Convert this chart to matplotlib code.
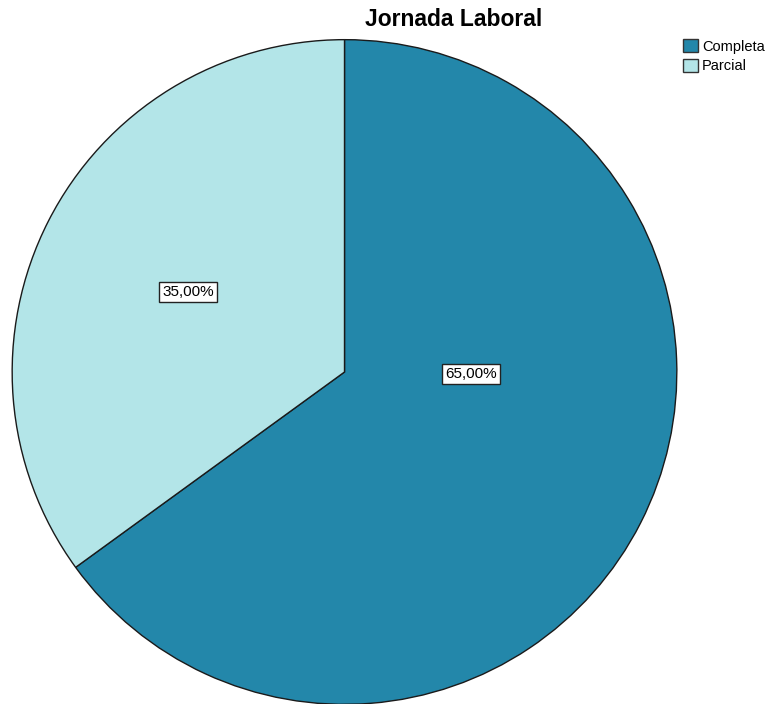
import matplotlib
matplotlib.use('Agg')
import matplotlib.pyplot as plt
from matplotlib.patches import Patch

plt.rcParams['font.family'] = ['Liberation Sans', 'DejaVu Sans']

categorias = ['Completa', 'Parcial']
valores = [65.0, 35.0]
colores = ['#2387AA', '#B3E5E8']

fig = plt.figure(figsize=(7.68, 7.04), dpi=100)
ax = fig.add_axes([10 / 768, -2 / 704, 669 / 768, 668 / 704])

wedges, _ = ax.pie(valores, colors=colores, startangle=90, counterclock=False,
                   wedgeprops=dict(edgecolor='#1a1a1a', linewidth=1.0))
ax.set_aspect('equal')
ax.set_xlim(-1.005, 1.005)
ax.set_ylim(-1.005, 1.005)

# etiquetas de porcentaje
pos_etiquetas = [(0.38, -0.005), (-0.47, 0.24)]
for v, (x, y) in zip(valores, pos_etiquetas):
    ax.text(x, y, f"{v:.2f}%".replace('.', ','), ha='center', va='center', fontsize=11,
            bbox=dict(facecolor='white', edgecolor='#222222', boxstyle='square,pad=0.2', linewidth=1.0))

fig.text(454 / 768, 1 - 19 / 704, 'Jornada Laboral', ha='center', va='center',
         fontsize=16.5, fontweight='bold')

handles = [Patch(facecolor=c, edgecolor='#333333', label=l) for c, l in zip(colores, categorias)]
fig.legend(handles=handles, loc='upper left', bbox_to_anchor=(683 / 768, 1 - 39 / 704),
           frameon=False, fontsize=10.5, handlelength=1.0, handleheight=1.0,
           handletextpad=0.3, labelspacing=0.35, borderpad=0, borderaxespad=0)

fig.savefig('out.png', dpi=100)
